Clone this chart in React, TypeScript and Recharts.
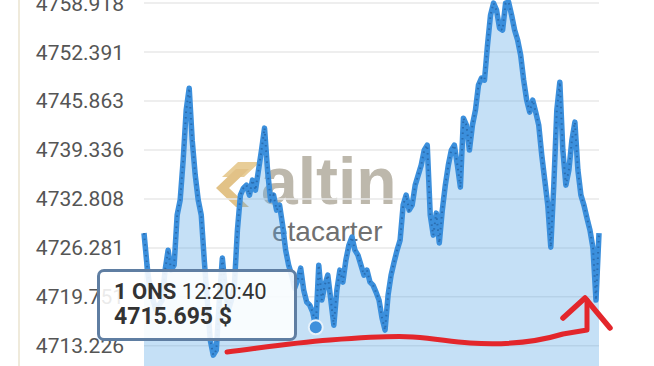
import { AreaChart, Area, Line, XAxis, YAxis, CartesianGrid, Tooltip } from 'recharts';

// ons altın fiyatı, 12:xx civarı
const prices = [
  4728.25, 4723.98, 4720.65, 4719.32, 4717.98, 4718.65, 4719.32, 4723.32, 4725.98, 4723.32,
  4723.98, 4730.65, 4732.65, 4737.98, 4744.65, 4747.58, 4740.65, 4735.98, 4732.65, 4730.65,
  4724.65, 4719.32, 4713.98, 4711.98, 4712.65, 4719.32, 4724.92, 4720.65, 4717.98, 4719.32,
  4721.32, 4728.65, 4733.32, 4734.25, 4734.65, 4733.32, 4735.32, 4733.98, 4736.65, 4739.32,
  4742.25, 4736.65, 4732.65, 4733.32, 4731.32, 4731.98, 4729.32, 4725.98, 4723.98, 4722.65,
  4720.92, 4721.98, 4723.58, 4720.65, 4719.05, 4718.65, 4717.72, 4715.695, 4723.98, 4719.32,
  4721.32, 4722.65, 4719.32, 4715.98, 4720.65, 4723.32, 4721.72, 4724.65, 4726.65, 4727.72,
  4725.98, 4725.32, 4723.98, 4722.65, 4723.32, 4721.72, 4721.32, 4720.38, 4719.32, 4716.92,
  4715.32, 4719.98, 4722.65, 4724.38, 4725.98, 4727.32, 4731.98, 4733.32, 4731.32, 4731.98,
  4734.65, 4735.98, 4737.32, 4739.32, 4739.98, 4730.65, 4727.98, 4730.92, 4726.92, 4731.32,
  4734.65, 4737.32, 4739.32, 4739.98, 4737.32, 4734.38, 4743.58, 4742.65, 4739.32, 4742.65,
  4744.65, 4747.98, 4748.92, 4748.65, 4753.32, 4757.32, 4758.92, 4757.98, 4755.58, 4755.32,
  4758.92, 4759.05, 4757.32, 4755.32, 4753.98, 4751.98, 4748.65, 4745.98, 4744.38, 4745.98,
  4744.38, 4742.65, 4738.65, 4735.32, 4731.98, 4726.38, 4734.65, 4744.65, 4748.38, 4739.32,
  4734.65, 4736.65, 4740.65, 4743.05, 4736.65, 4733.32, 4731.98, 4730.25, 4728.65, 4726.25,
  4719.32, 4728.25,
];

const yTicks = [4713.226, 4719.751, 4726.281, 4732.808, 4739.336, 4745.863, 4752.391, 4758.918];

const tooltipIndex = 57;
const tooltipLabel = '1 ONS';
const tooltipTime = '12:20:40';

const data = prices.map((v, i) => ({ i, price: v }));

const TooltipBox = () => {
  const val = prices[tooltipIndex].toFixed(3);
  return (
    <div
      style={{
        width: 194,
        height: 66,
        boxSizing: 'content-box',
        border: '3px solid #5f7ea2',
        borderRadius: 7,
        background: 'rgba(255,255,255,0.88)',
        fontFamily: 'Roboto, sans-serif',
        fontSize: 22,
        color: '#333',
        position: 'relative',
      }}
    >
      <div style={{ position: 'absolute', left: 14, top: 7, whiteSpace: 'nowrap' }}>
        <b>{tooltipLabel}</b> {tooltipTime}
      </div>
      <div style={{ position: 'absolute', left: 14, top: 31, whiteSpace: 'nowrap', fontWeight: 700, fontSize: 23 }}>
        {val} $
      </div>
    </div>
  );
};

export default function App() {
  return (
    <div style={{ position: 'fixed', left: 0, top: 0, width: 654, height: 366, overflow: 'hidden', background: '#fff' }}>
      {/* sol kenardaki ince çizgi */}
      <div style={{ position: 'absolute', left: 18, top: 0, width: 2, height: 366, background: '#efeadb' }} />

      {/* filigran */}
      <svg style={{ position: 'absolute', left: 212, top: 158 }} width={54} height={52}>
        <path d="M26 4 L48 4 L32 19 L10 19 Z" fill="#e8cd97" />
        <path d="M24 11 L4 30 L24 49 L37 49 L17 30 L37 11 Z" fill="#e2c287" />
      </svg>
      <div
        style={{
          position: 'absolute', left: 261, top: 144, fontFamily: '"Liberation Sans", Arial, sans-serif',
          fontWeight: 700, fontSize: 66, color: '#bdb8ac', lineHeight: '74px',
        }}
      >
        altin
      </div>
      <div
        style={{
          position: 'absolute', left: 272, top: 216, fontFamily: '"Liberation Sans", Arial, sans-serif',
          fontSize: 28, color: '#707070', lineHeight: '32px',
        }}
      >
        etacarter
      </div>

      <div style={{ position: 'absolute', left: 0, top: -20 }}>
        <AreaChart width={654} height={390} data={data} margin={{ top: 0, right: 55, bottom: 0, left: 0 }}>
          <CartesianGrid vertical={false} stroke="#e9e9e9" strokeWidth={1.5} />
          <XAxis dataKey="i" hide />
          <YAxis
            domain={[4710, 4762]}
            ticks={yTicks}
            width={144}
            tickSize={0}
            tickMargin={20}
            axisLine={false}
            tickLine={false}
            tickFormatter={(v: number) => v.toFixed(3)}
            tick={{ fill: '#555', fontSize: 21, fontFamily: 'Roboto, sans-serif' }}
          />
          <Tooltip
            defaultIndex={tooltipIndex}
            active={true}
            cursor={false}
            position={{ x: 97, y: 289 }}
            content={() => <TooltipBox />}
            isAnimationActive={false}
            wrapperStyle={{ zIndex: 5 }}
          />
          <Area
            type="linear"
            dataKey="price"
            stroke="#3b8fdc"
            strokeWidth={5.5}
            strokeLinejoin="round"
            fill="#5aa5e6"
            fillOpacity={0.35}
            activeDot={{ r: 7, fill: '#3f90dc', stroke: '#e8f2fb', strokeWidth: 2 }}
            isAnimationActive={false}
          />
          <Line
            type="linear"
            dataKey="price"
            stroke="#2a6db0"
            strokeWidth={2}
            strokeDasharray="1.5 4"
            dot={false}
            activeDot={false}
            isAnimationActive={false}
          />
        </AreaChart>
      </div>

      {/* kırmızı el çizimi işaret */}
      <svg style={{ position: 'absolute', left: 0, top: 0, zIndex: 10 }} width={654} height={366}>
        <path
          d="M227 352 C260 348 290 343 330 340 C370 337 400 336 413 337 C440 339 450 342 470 343 C500 345 530 344 563 334 L587 330 L587 300"
          fill="none" stroke="#e3262b" strokeWidth={5} strokeLinecap="round" strokeLinejoin="round"
        />
        <path d="M563 318 L585 298 L610 328" fill="none" stroke="#e3262b" strokeWidth={5.5} strokeLinecap="round" strokeLinejoin="round" />
      </svg>
    </div>
  );
}
